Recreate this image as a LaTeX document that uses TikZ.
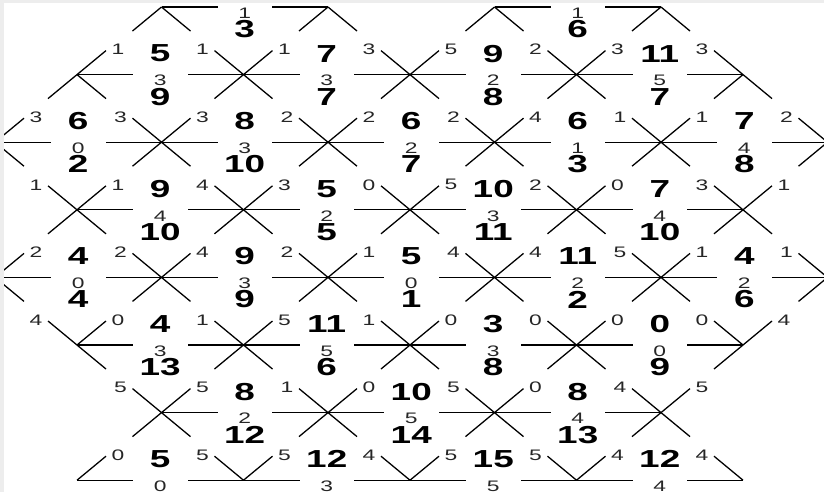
\documentclass[tikz,border=0pt]{standalone}
\usepackage{fontspec}
\newfontfamily\numfont[FakeStretch=1.5]{Liberation Sans}
\usetikzlibrary{calc}

\begin{document}
\begin{tikzpicture}[
  x=0.03cm, y=-0.03cm,
  ln/.style={draw=black, line width=1.1pt},
  big/.style={font=\numfont\bfseries\fontsize{21}{21}\selectfont, inner sep=0pt},
  sml/.style={font=\numfont\fontsize{13}{13}\selectfont, inner sep=0pt, text=black!85}
]
\useasboundingbox (0,0) rectangle (824,492);
\fill[black!7] (0,0) rectangle (824,492);
\fill[white] (4,3) rectangle (824,492);
\clip (4,3) rectangle (824,492);

% ---- lattice points (odd rows shifted by half a step)
\foreach \r in {0,...,7}{
  \pgfmathsetmacro\yy{7+67.6*\r}
  \pgfmathsetmacro\xo{mod(\r,2)==1 ? 77 : -5}
  \foreach \k in {0,...,5}{\coordinate (v-\r-\k) at (\xo+166.5*\k,\yy);}
}

% ---- horizontal edges: number above / small number / number below
\foreach \r/\k/\a/\m/\b in {
  0/1/-1/1/3, 0/3/-1/1/6,
  1/0/5/3/9, 1/1/7/3/7, 1/2/9/2/8, 1/3/11/5/7,
  2/0/6/0/2, 2/1/8/3/10, 2/2/6/2/7, 2/3/6/1/3, 2/4/7/4/8,
  3/0/9/4/10, 3/1/5/2/5, 3/2/10/3/11, 3/3/7/4/10,
  4/0/4/0/4, 4/1/9/3/9, 4/2/5/0/1, 4/3/11/2/2, 4/4/4/2/6,
  5/0/4/3/13, 5/1/11/5/6, 5/2/3/3/8, 5/3/0/0/9,
  6/1/8/2/12, 6/2/10/5/14, 6/3/8/4/13,
  7/0/5/0/-1, 7/1/12/3/-1, 7/2/15/5/-1, 7/3/12/4/-1}{
  \pgfmathtruncatemacro\kk{\k+1}
  \draw[ln] (v-\r-\k) -- +(56,0);
  \draw[ln] (v-\r-\kk) -- +(-56,0);
  \coordinate (g-\r-\k) at ($(v-\r-\k)!0.5!(v-\r-\kk)$);
  \ifnum\a<0\else\node[big] (up-\r-\k) at ([shift={(0,-21)}]g-\r-\k) {\a};\fi
  \ifnum\b<0\else\node[big] (dn-\r-\k) at ([shift={(0,22)}]g-\r-\k) {\b};\fi
  \node[sml] (md-\r-\k) at ([shift={(0,6)}]g-\r-\k) {\m};
}

% ---- diagonal spokes, upper ones carry a small number
\foreach \r/\k/\nw/\ne/\sw/\se in {
  0/1/-1/-1/1/1, 0/2/-1/-1/1/1, 0/3/-1/-1/1/1, 0/4/-1/-1/1/1,
  1/0/-1/1/1/1, 1/1/1/1/1/1, 1/2/3/5/1/1, 1/3/2/3/1/1, 1/4/3/-1/1/1,
  2/0/-1/3/0/1, 2/1/3/3/1/1, 2/2/2/2/1/1, 2/3/2/4/1/1, 2/4/1/1/1/1, 2/5/2/-1/1/0,
  3/0/1/1/1/1, 3/1/4/3/1/1, 3/2/0/5/1/1, 3/3/2/0/1/1, 3/4/3/1/1/1,
  4/0/-1/2/0/1, 4/1/2/4/1/1, 4/2/2/1/1/1, 4/3/4/4/1/1, 4/4/5/1/1/1, 4/5/1/-1/1/0,
  5/0/4/0/0/1, 5/1/1/5/1/1, 5/2/1/0/1/1, 5/3/0/0/1/1, 5/4/0/4/1/0,
  6/1/5/5/1/1, 6/2/1/0/1/1, 6/3/5/0/1/1, 6/4/4/5/1/1,
  7/0/-1/0/0/0, 7/1/5/5/0/0, 7/2/4/5/0/0, 7/3/5/4/0/0, 7/4/4/-1/0/0}{
  \ifnum\nw<0\else
    \draw[ln] (v-\r-\k) -- +(-29,-24);
    \node[sml] (nw-\r-\k) at ([shift={(-41,-25)}]v-\r-\k) {\nw};
  \fi
  \ifnum\ne<0\else
    \draw[ln] (v-\r-\k) -- +(29,-24);
    \node[sml] (ne-\r-\k) at ([shift={(41,-25)}]v-\r-\k) {\ne};
  \fi
  \ifnum\sw=1 \draw[ln] (v-\r-\k) -- +(-29,24);\fi
  \ifnum\se=1 \draw[ln] (v-\r-\k) -- +(29,24);\fi
}
\end{tikzpicture}
\end{document}
